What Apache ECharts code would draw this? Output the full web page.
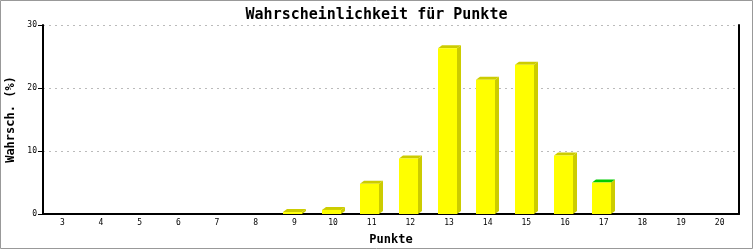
<!DOCTYPE html>
<html>
<head>
<meta charset="utf-8">
<script src="https://cdn.jsdelivr.net/npm/echarts@6/dist/echarts.min.js"></script>
<style>
html,body{margin:0;padding:0;background:#fff;}
#c{width:753px;height:250px;}
</style>
</head>
<body>
<div id="c"></div>
<script>
const categories = ['3','4','5','6','7','8','9','10','11','12','13','14','15','16','17','18','19','20'];
const probabilities = [0, 0, 0, 0, 0, 0, 0.3, 0.65, 4.8, 8.8, 26.3, 21.3, 23.7, 9.3, 5.0, 0, 0, 0];
const yTicks = [0, 10, 20, 30];
const highlighted = '17';

const MONO = '"DejaVu Sans Mono", "Liberation Mono", monospace';
const FRONT = '#ffff00';
const SHADE = '#cccc00';
const GREEN = '#00cc00';

const chart = echarts.init(document.getElementById('c'), null, {renderer: 'canvas'});

function renderBar(params, api) {
  const idx = api.value(0);
  const v = api.value(1);
  if (!(v > 0)) return {type: 'group', children: []};
  const base = api.coord([idx, 0]);
  const top = api.coord([idx, v]);
  const bw = api.size([1, 0])[0] * 0.49;
  const d = 4, e = 3;
  const x0 = Math.round(base[0] - (bw + d) / 2);
  const x1 = Math.round(x0 + bw);
  const yb = base[1];
  const yt = top[1];
  const topColor = categories[idx] === highlighted ? GREEN : SHADE;
  return {
    type: 'group',
    children: [
      {type: 'polygon', shape: {points: [[x1, yb], [x1, yt], [x1 + d, yt - e], [x1 + d, yb - e]]}, style: {fill: SHADE}},
      {type: 'polygon', shape: {points: [[x0, yt], [x0 + d, yt - e], [x1 + d, yt - e], [x1, yt]]}, style: {fill: topColor}},
      {type: 'rect', shape: {x: x0, y: yt, width: x1 - x0, height: yb - yt}, style: {fill: FRONT}}
    ]
  };
}

chart.setOption({
  animation: false,
  backgroundColor: '#ffffff',
  title: {
    text: 'Wahrscheinlichkeit für Punkte',
    left: 'center',
    top: 3,
    textStyle: {fontFamily: MONO, fontSize: 15, fontWeight: 'bold', color: '#000'}
  },
  graphic: [{
    type: 'rect', z: 100, silent: true,
    shape: {x: 0.5, y: 0.5, width: 752, height: 248},
    style: {fill: 'none', stroke: '#999999', lineWidth: 1}
  }],
  grid: {left: 43, right: 14, top: 25, bottom: 36, containLabel: false, outerBoundsMode: 'none'},
  xAxis: {
    type: 'category',
    data: categories,
    name: 'Punkte',
    nameLocation: 'middle',
    nameGap: 20,
    nameTextStyle: {fontFamily: MONO, fontSize: 12, fontWeight: 'bold', color: '#000'},
    axisLine: {show: true, onZero: false, lineStyle: {color: '#000', width: 2}},
    axisTick: {show: false},
    axisLabel: {fontFamily: MONO, fontSize: 8, color: '#000', margin: 5},
    splitLine: {show: false}
  },
  yAxis: [{
    type: 'value',
    min: yTicks[0],
    max: yTicks[yTicks.length - 1],
    interval: 10,
    name: 'Wahrsch. (%)',
    nameLocation: 'middle',
    nameGap: 21,
    nameRotate: 90,
    nameTextStyle: {fontFamily: MONO, fontSize: 12, fontWeight: 'bold', color: '#000'},
    axisLine: {show: true, lineStyle: {color: '#000', width: 2}},
    axisTick: {show: true, length: 5, lineStyle: {color: '#000', width: 1}},
    axisLabel: {fontFamily: MONO, fontSize: 8, color: '#000', margin: 6},
    splitLine: {show: true, lineStyle: {color: '#bbbbbb', width: 1, type: [2, 4]}}
  }, {
    type: 'value',
    position: 'right',
    min: yTicks[0],
    max: yTicks[yTicks.length - 1],
    interval: 10,
    axisLine: {show: true, lineStyle: {color: '#000', width: 2}},
    axisTick: {show: false},
    axisLabel: {show: false},
    splitLine: {show: false}
  }],
  series: [{
    type: 'custom',
    renderItem: renderBar,
    data: probabilities.map((v, i) => [i, v]),
    encode: {x: 0, y: 1},
    z: 1
  }]
});
</script>
</body>
</html>
